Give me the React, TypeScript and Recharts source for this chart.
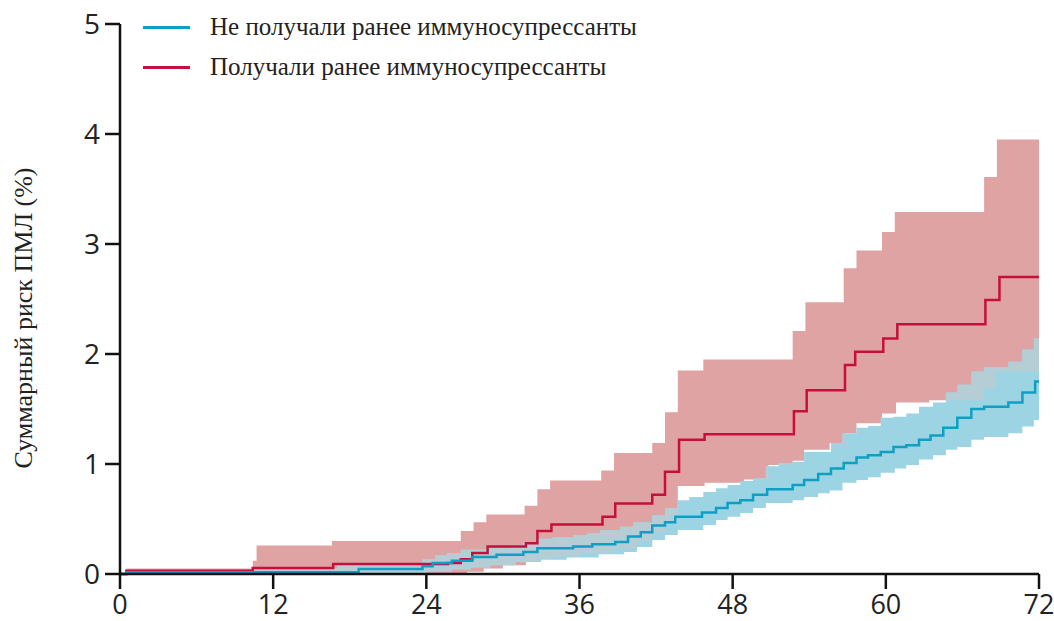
import React from "react";
import { ComposedChart, Area, Line, XAxis, YAxis } from "recharts";

type Step = [number, number];

const monthTicks = [0, 12, 24, 36, 48, 60, 72];
const riskTicks = [0, 1, 2, 3, 4, 5];

const blueLabel = "Не получали ранее иммуносупрессанты";
const redLabel = "Получали ранее иммуносупрессанты";
const yLabel = "Суммарный риск ПМЛ (%)";

// [month where the step starts, cumulative risk %]
const redLine: Step[] = [
  [0, 0], [0.5, 0.03], [10.4, 0.055], [16.7, 0.09], [25.7, 0.1], [26.7, 0.135],
  [27.6, 0.19], [28.8, 0.25], [31.8, 0.28], [32.7, 0.39], [33.8, 0.45],
  [37.8, 0.52], [38.8, 0.64], [41.7, 0.72], [42.7, 0.93], [43.8, 1.22],
  [45.8, 1.27], [52.8, 1.48], [53.8, 1.67], [56.8, 1.9], [57.6, 2.02],
  [59.8, 2.14], [60.9, 2.27], [67.8, 2.49], [68.9, 2.7],
];

const redLow: Step[] = [
  [0, 0], [27.2, 0.02], [28.5, 0.05], [30, 0.08], [31.8, 0.11], [32.7, 0.14],
  [34, 0.16], [36, 0.19], [38.7, 0.23], [40.5, 0.3], [41.7, 0.38], [42.7, 0.47],
  [43.7, 0.8], [45.8, 0.83], [48.9, 0.86], [50.8, 0.99], [52.7, 1.03],
  [53.6, 1.13], [55.6, 1.19], [56.8, 1.28], [57.7, 1.37], [59.7, 1.46],
  [60.8, 1.56], [63.4, 1.58], [67.7, 1.69], [68.6, 1.84],
];

const redHigh: Step[] = [
  [0, 0], [0.5, 0.05], [10.4, 0.12], [10.7, 0.26], [16.6, 0.3], [26.7, 0.39],
  [27.7, 0.47], [28.7, 0.54], [31.7, 0.62], [32.7, 0.77], [33.7, 0.85],
  [37.7, 0.94], [38.7, 1.1], [41.7, 1.19], [42.7, 1.47], [43.7, 1.85],
  [45.7, 1.95], [52.7, 2.21], [53.7, 2.47], [56.7, 2.78], [57.7, 2.94],
  [59.7, 3.11], [60.7, 3.29], [67.7, 3.61], [68.7, 3.95],
];

const blueLine: Step[] = [
  [0, 0], [0.5, 0.015], [18.7, 0.045], [23.7, 0.07], [24.5, 0.1], [26, 0.12],
  [27.6, 0.155], [29.5, 0.175], [31.6, 0.2], [32.7, 0.235], [35.5, 0.25],
  [37, 0.27], [38.8, 0.29], [39.8, 0.34], [40.8, 0.38], [41.7, 0.44],
  [42.7, 0.47], [43.5, 0.52], [45.6, 0.56], [46.7, 0.6], [47.6, 0.645],
  [48.6, 0.67], [49.6, 0.72], [50.7, 0.77], [52.7, 0.81], [53.6, 0.855],
  [54.7, 0.91], [55.7, 0.96], [56.7, 1.01], [57.7, 1.06], [58.6, 1.08],
  [59.6, 1.11], [60.6, 1.155], [61.6, 1.17], [62.6, 1.22], [63.5, 1.26],
  [64.5, 1.33], [65.6, 1.42], [66.7, 1.5], [67.7, 1.52], [69.6, 1.56],
  [70.7, 1.65], [71.7, 1.75],
];

const blueLow: Step[] = [
  [0, 0], [24, 0.02], [26, 0.04], [27.5, 0.06], [29, 0.08], [31, 0.11],
  [33, 0.13], [35, 0.15], [37.5, 0.18], [39.5, 0.2], [40.5, 0.245],
  [41.7, 0.31], [42.7, 0.355], [43.7, 0.4], [45.7, 0.445], [46.7, 0.49],
  [47.6, 0.52], [48.6, 0.555], [49.6, 0.6], [50.6, 0.645], [52.7, 0.67],
  [53.6, 0.7], [54.7, 0.735], [55.6, 0.76], [56.6, 0.83], [57.7, 0.855],
  [58.6, 0.88], [59.6, 0.92], [60.7, 0.96], [61.6, 0.99], [62.6, 1.04],
  [63.7, 1.08], [64.7, 1.13], [65.6, 1.155], [66.7, 1.22], [67.7, 1.245],
  [69.6, 1.28], [70.7, 1.34], [71.6, 1.4],
];

const blueHigh: Step[] = [
  [0, 0], [0.5, 0.03], [10.5, 0.05], [17, 0.08], [23.7, 0.135], [24.7, 0.17],
  [25.6, 0.19], [26.7, 0.22], [28.8, 0.235], [30.5, 0.26], [31.6, 0.29],
  [32.7, 0.32], [33.9, 0.335], [35.5, 0.355], [36.6, 0.37], [37.6, 0.4],
  [39.2, 0.43], [40.2, 0.47], [41.7, 0.535], [42.7, 0.6], [43.7, 0.67],
  [44.6, 0.7], [45.7, 0.745], [46.7, 0.78], [47.6, 0.81], [48.6, 0.845],
  [49.6, 0.87], [50.6, 0.98], [51.6, 1.01], [52.7, 1.02], [53.6, 1.11],
  [55.7, 1.19], [56.6, 1.28], [57.7, 1.33], [58.6, 1.345], [59.6, 1.42],
  [60.6, 1.43], [61.6, 1.46], [62.6, 1.52], [63.7, 1.56], [64.7, 1.65],
  [65.6, 1.72], [66.7, 1.84], [67.7, 1.88], [69.6, 1.93], [70.7, 2.04],
  [71.6, 2.14],
];

const RED = "#c5103e";
const BLUE = "#0f9fc3";
const AXIS = "#111";

function valueAt(steps: Step[], m: number) {
  let v = steps[0][1];
  for (const [x, y] of steps) {
    if (x <= m) v = y;
  }
  return v;
}

const allMonths = Array.from(
  new Set(
    [redLine, redLow, redHigh, blueLine, blueLow, blueHigh]
      .flatMap((s) => s.map((p) => p[0]))
      .concat([72])
  )
).sort((a, b) => a - b);

const data = allMonths.map((m) => {
  const rl = valueAt(redLow, m);
  const rh = valueAt(redHigh, m);
  const bl = valueAt(blueLow, m);
  const bh = valueAt(blueHigh, m);
  const lo = Math.max(rl, bl);
  const hi = Math.min(rh, bh);
  return {
    month: m,
    red: valueAt(redLine, m),
    blue: valueAt(blueLine, m),
    redBand: [rl, rh],
    blueBand: [bl, bh],
    overlap: [lo, Math.max(lo, hi)],
  };
});

const tickFont = { fontFamily: "'Open Sans', sans-serif", fontSize: 27, fill: "#222" };
const serif = "'Liberation Serif', 'Times New Roman', serif";

export default function App() {
  return (
    <div style={{ position: "fixed", left: 0, top: 0, width: 1054, height: 621, background: "#fff" }}>
      <ComposedChart
        width={1054}
        height={621}
        data={data}
        margin={{ top: 24, right: 15, bottom: 7, left: 0 }}
      >
        <Area
          type="stepAfter"
          dataKey="redBand"
          fill="#e0a3a3"
          fillOpacity={1}
          stroke="none"
          isAnimationActive={false}
        />
        <Area
          type="stepAfter"
          dataKey="blueBand"
          fill="#9cd4e4"
          fillOpacity={1}
          stroke="none"
          isAnimationActive={false}
        />
        <Area
          type="stepAfter"
          dataKey="overlap"
          fill="#b5cdd5"
          fillOpacity={1}
          stroke="none"
          isAnimationActive={false}
        />
        <Line
          type="stepAfter"
          dataKey="red"
          stroke={RED}
          strokeWidth={2.5}
          dot={false}
          isAnimationActive={false}
        />
        <Line
          type="stepAfter"
          dataKey="blue"
          stroke={BLUE}
          strokeWidth={2.5}
          dot={false}
          isAnimationActive={false}
        />
        <XAxis
          dataKey="month"
          type="number"
          domain={[0, 72]}
          ticks={monthTicks}
          interval={0}
          height={40}
          tickSize={15}
          tickMargin={6}
          axisLine={{ stroke: AXIS, strokeWidth: 2.5 }}
          tickLine={{ stroke: AXIS, strokeWidth: 2.5 }}
          tick={tickFont}
        />
        <YAxis
          type="number"
          domain={[0, 5]}
          ticks={riskTicks}
          interval={0}
          width={120}
          tickSize={15}
          tickMargin={5}
          axisLine={{ stroke: AXIS, strokeWidth: 2.5 }}
          tickLine={{ stroke: AXIS, strokeWidth: 2.5 }}
          tick={{ ...tickFont, fontSize: 28 }}
        />
      </ComposedChart>

      <div
        style={{
          position: "absolute",
          left: 24,
          top: 318,
          transform: "translate(-50%, -50%) rotate(-90deg)",
          whiteSpace: "nowrap",
          fontFamily: serif,
          fontSize: 26,
          color: "#222",
        }}
      >
        {yLabel}
      </div>

      {[
        { label: blueLabel, color: BLUE, y: 27 },
        { label: redLabel, color: RED, y: 67 },
      ].map((item) => (
        <div
          key={item.label}
          style={{
            position: "absolute",
            left: 143,
            top: item.y - 15,
            height: 30,
            display: "flex",
            alignItems: "center",
            fontFamily: serif,
            fontSize: 25,
            color: "#222",
            whiteSpace: "nowrap",
          }}
        >
          <span style={{ display: "inline-block", width: 47, height: 3, background: item.color, marginRight: 20 }} />
          {item.label}
        </div>
      ))}
    </div>
  );
}
